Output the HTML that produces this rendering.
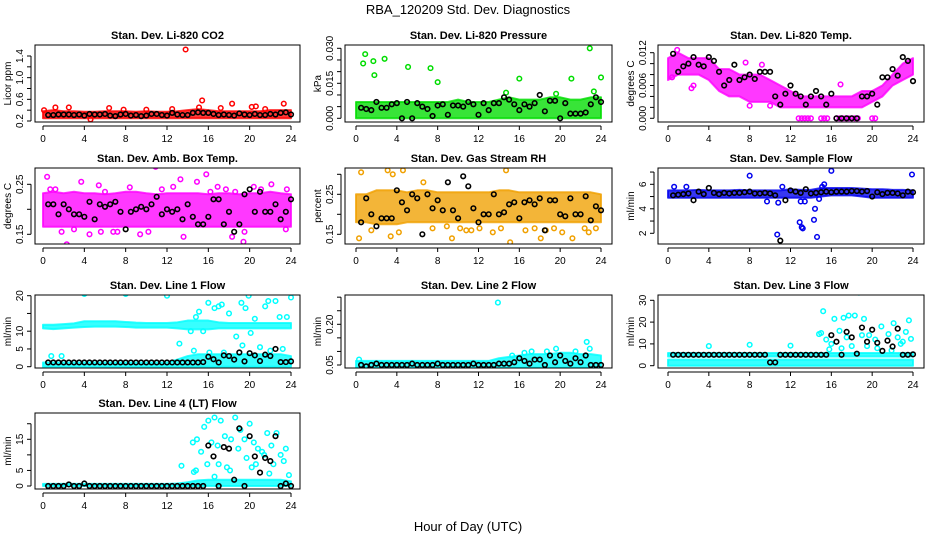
<!DOCTYPE html>
<html><head><meta charset="utf-8"><style>
body{margin:0;background:#fff;}
svg{display:block;font-family:"Liberation Sans",sans-serif;}
</style></head><body>
<svg id="chart" width="936" height="540" viewBox="0 0 936 540">
<text x="468" y="14" text-anchor="middle" font-size="13">RBA_120209  Std. Dev. Diagnostics</text>
<text x="468" y="531" text-anchor="middle" font-size="13">Hour of Day (UTC)</text>
</svg>
<script>
// ---- shared categories ----
const bandHours = [0,1,2,3,4,5,6,7,8,9,10,11,12,13,14,15,16,17,18,19,20,21,22,23,24];
const halfHours = [0.5,1,1.5,2,2.5,3,3.5,4,4.5,5,5.5,6,6.5,7,7.5,8,8.5,9,9.5,10,10.5,11,11.5,12,12.5,13,13.5,14,14.5,15,15.5,16,16.5,17,17.5,18,18.5,19,19.5,20,20.5,21,21.5,22,22.5,23,23.5,24];
const xTicks = [0,4,8,12,16,20,24];

// ---- CO2 ----
const co2Lo = [0.25,0.25,0.25,0.25,0.25,0.25,0.25,0.25,0.25,0.25,0.25,0.25,0.25,0.25,0.25,0.25,0.25,0.25,0.25,0.25,0.25,0.25,0.25,0.25,0.25];
const co2Hi = [0.38,0.4,0.38,0.38,0.37,0.37,0.38,0.38,0.38,0.37,0.38,0.37,0.37,0.38,0.4,0.42,0.4,0.38,0.38,0.38,0.38,0.38,0.4,0.4,0.4];
const co2OutH = [13.8,15.4,18.3,23.3,1.2,2.5,6.4,17.2,20.6,0.1,4.6,15.1,20.2,21.5,7.8,10,12.5];
const co2OutV = [1.52,0.58,0.52,0.52,0.45,0.45,0.44,0.44,0.47,0.4,0.23,0.45,0.46,0.42,0.41,0.41,0.42];
const co2Blk = [0.31,0.31,0.32,0.32,0.32,0.31,0.32,0.3,0.33,0.32,0.32,0.33,0.3,0.29,0.32,0.33,0.3,0.31,0.29,0.3,0.33,0.33,0.31,0.3,0.35,0.32,0.31,0.31,0.35,0.36,0.35,0.35,0.33,0.31,0.32,0.31,0.3,0.34,0.32,0.31,0.33,0.31,0.31,0.33,0.32,0.35,0.36,0.32];

// ---- Pressure ----
const prsLo = [0,0,0,0,0,0,0,0,0,0,0,0,0,0,0,0,0,0,0,0,0,0,0,0,0];
const prsHi = [0.007,0.007,0.007,0.007,0.007,0.007,0.007,0.007,0.007,0.007,0.008,0.007,0.007,0.007,0.008,0.009,0.008,0.008,0.008,0.009,0.009,0.008,0.008,0.009,0.009];
const prsOutH = [0.7,0.9,1.7,1.8,2.8,5.1,7.3,8,16,21.1,22.9,24,23.3,14.7,19.6];
const prsOutV = [0.0235,0.0275,0.0245,0.0185,0.0255,0.022,0.0215,0.0155,0.017,0.017,0.030,0.0175,0.0115,0.011,0.0105];
const prsBlk = [0.0045,0.004,0.0035,0.007,0.0045,0.0045,0.006,0.0065,0.0,0.007,0.0,0.0065,0.005,0.004,0.001,0.0055,0.006,0.0015,0.0055,0.0055,0.005,0.007,0.006,0.0015,0.0065,0.0035,0.0065,0.0065,0.009,0.008,0.006,0.0035,0.006,0.005,0.0065,0.01,0.003,0.0075,0.0075,0.0,0.0065,0.002,0.002,0.002,0.0025,0.006,0.009,0.007];

// ---- Li-820 Temp ----
const tmpLo = [0.007,0.008,0.008,0.008,0.007,0.005,0.004,0.004,0.003,0.003,0.003,0.002,0.002,0.002,0.002,0.002,0.002,0.002,0.002,0.002,0.003,0.004,0.006,0.007,0.008];
const tmpHi = [0.011,0.012,0.011,0.011,0.011,0.009,0.009,0.008,0.008,0.008,0.007,0.006,0.005,0.004,0.004,0.004,0.004,0.004,0.004,0.005,0.005,0.006,0.008,0.01,0.011];
const tmpOutH = [12.8,13.1,13.4,13.7,14.0,15.0,15.3,15.6,16.5,16.8,17.1,17.4,17.7,18.0,18.3,18.6,20.0,20.3,0.4,2.3,2.5,8,10,16.9,0.9,7.6,9.2];
const tmpOutV = [0,0,0,0,0,0,0,0,0,0,0,0,0,0,0,0,0,0,0.0075,0.0055,0.006,0.0023,0.0023,0.0062,0.0125,0.0102,0.0098];
const tmpBlk = [0.0118,0.0085,0.0095,0.010,0.0112,0.0098,0.0095,0.0112,0.0105,0.0085,0.006,0.007,0.0098,0.007,0.0075,0.008,0.0072,0.0085,0.0085,0.0085,0.004,0.0025,0.0045,0.006,0.0045,0.004,0.0025,0.004,0.005,0.004,0.0025,0.0045,0.0,0.0,0.0,0.0,0.0,0.004,0.004,0.0045,0.0025,0.0075,0.0075,0.009,0.0078,0.0112,0.0105,0.0068];

// ---- Amb Box Temp ----
const ambLo = [0.165,0.165,0.165,0.165,0.165,0.165,0.165,0.165,0.165,0.165,0.165,0.165,0.165,0.165,0.165,0.165,0.165,0.165,0.165,0.165,0.165,0.165,0.165,0.165,0.165];
const ambHi = [0.232,0.235,0.232,0.235,0.232,0.232,0.23,0.232,0.235,0.235,0.232,0.23,0.232,0.232,0.232,0.232,0.23,0.232,0.232,0.23,0.232,0.232,0.235,0.232,0.23];
const ambOutH = [0.4,0.7,1.2,2.3,3.7,5.4,6,7.2,8.4,10.9,11.5,12.6,13.3,14.9,15.8,16.9,17.7,18.6,19.4,20.4,21.1,22.1,23.5,1.8,3,5.6,6.8,9.4,13.6,16.2,18.3,19.5,23.6,4.5,10.2];
const ambOutV = [0.265,0.24,0.24,0.13,0.255,0.248,0.235,0.155,0.244,0.285,0.24,0.245,0.26,0.255,0.27,0.245,0.24,0.235,0.135,0.245,0.24,0.25,0.16,0.155,0.16,0.155,0.155,0.15,0.145,0.235,0.145,0.155,0.24,0.15,0.155];
const ambBlk = [0.21,0.21,0.19,0.21,0.20,0.19,0.19,0.185,0.215,0.18,0.21,0.205,0.21,0.215,0.195,0.16,0.195,0.2,0.205,0.2,0.21,0.225,0.19,0.2,0.195,0.2,0.18,0.21,0.185,0.17,0.17,0.185,0.22,0.22,0.17,0.195,0.155,0.17,0.23,0.24,0.195,0.235,0.195,0.195,0.21,0.18,0.195,0.22];

// ---- Gas Stream RH ----
const rhLo = [0.18,0.18,0.175,0.175,0.175,0.18,0.18,0.18,0.18,0.18,0.18,0.18,0.18,0.18,0.18,0.18,0.18,0.18,0.18,0.18,0.18,0.18,0.18,0.18,0.18];
const rhHi = [0.25,0.25,0.26,0.26,0.26,0.255,0.26,0.26,0.255,0.255,0.255,0.255,0.255,0.255,0.26,0.26,0.255,0.255,0.255,0.255,0.255,0.255,0.255,0.255,0.25];
const rhOutH = [0.3,0.5,3.1,3.4,3.6,4.2,4.6,6.6,8.9,9.4,10.2,10.8,11.3,13.4,14.7,15.1,18.1,18.6,20.2,21.2,22.4,22.8,23.5,1.5,7.5,12.1,16.6,17.5,19.4,14.2];
const rhOutV = [0.14,0.305,0.31,0.145,0.3,0.155,0.31,0.28,0.17,0.14,0.165,0.16,0.16,0.155,0.31,0.13,0.14,0.16,0.155,0.14,0.165,0.155,0.165,0.16,0.165,0.165,0.16,0.165,0.165,0.165];
const rhBlk = [0.18,0.24,0.2,0.17,0.19,0.19,0.19,0.26,0.23,0.21,0.25,0.24,0.15,0.25,0.215,0.235,0.21,0.28,0.21,0.19,0.295,0.27,0.215,0.18,0.2,0.2,0.25,0.2,0.205,0.225,0.23,0.19,0.23,0.235,0.225,0.24,0.16,0.235,0.235,0.2,0.195,0.24,0.2,0.2,0.245,0.185,0.22,0.21];

// ---- Sample Flow ----
const sfLo = [4.9,4.9,4.9,4.9,4.9,4.9,4.9,4.9,4.9,4.9,4.9,4.9,4.9,4.9,4.9,5.0,5.1,5.1,5.1,5.0,4.9,4.9,4.9,4.9,4.9];
const sfHi = [5.5,5.5,5.5,5.55,5.5,5.5,5.5,5.55,5.5,5.5,5.5,5.5,5.6,5.55,5.55,5.7,5.7,5.7,5.7,5.65,5.6,5.6,5.55,5.55,5.5];
const sfOutH = [8,16,23.9,10.7,12.9,13.1,13.2,14.3,14.4,14.6,10.8,9.7,13,13.4,15.3,1.8,0.6,11.2,14.8,15.1];
const sfOutV = [6.7,7.1,6.8,1.9,2.9,2.5,2.4,3.1,4.0,1.7,4.5,4.6,4.6,4.6,6.0,5.8,5.8,5.8,4.8,5.8];
const sfBlk = [5.1,5.15,5.2,5.25,4.7,5.4,5.2,5.7,5.3,5.2,5.3,5.25,5.3,5.3,5.35,5.4,5.25,5.25,5.3,5.25,5.1,1.4,4.7,5.5,5.4,5.3,5.6,5.25,5.3,5.35,5.4,5.35,5.4,5.4,5.4,5.45,5.45,5.4,5.45,5.0,5.35,5.2,5.3,5.3,5.25,5.1,5.4,5.35];

// ---- Line 1 Flow ----
const l1Lo = [10.8,10.6,10.8,11,11.2,11.3,11.3,11.3,11.2,11,11,11,11,10.8,10.5,10.5,10.5,10.8,10.8,10.8,10.8,10.8,10.8,10.8,10.8];
const l1Hi = [11.8,11.8,12,12.2,12.8,12.8,12.8,12.8,12.6,12.4,12.3,12.3,12.3,12.5,13,13,13,12.5,12.3,12.3,12.3,12.3,12.3,12.3,12.3];
const l1LowLo = [0,0,0,0,0,0,0,0,0,0,0,0,0,0,0,0,0,0,0,0,0,0,0,0,0];
const l1LowHi = [1.2,1.2,1.2,1.2,1.2,1.2,1.2,1.2,1.2,1.2,1.2,1.2,1.2,2,3,3.5,3.5,3.5,3.5,3.5,3.5,3.5,3.5,3.5,3];
const l1OutH = [4,8,12,19.9,24,16,17.3,19.2,21.8,22.5,13.2,0.8,1.8,16.6,17,14.8,15.1,18.7,19.6,20.1,21.5,22.9,23.6,14.3,15.5,18,20.5,14.6,16.1,19.3,21,23.2,17.5,22];
const l1OutV = [20.5,20.5,20,20,19.5,18,17.5,18,18.5,18.5,6.5,3,3,16.5,17,14,15.5,8.5,16.5,9.5,17,14,14,10,10,15,13.5,4.5,4,6,5.5,5,4,4.5];
const l1Blk = [1.2,1.2,1.2,1.2,1.2,1.2,1.2,1.2,1.2,1.2,1.2,1.2,1.2,1.2,1.2,1.2,1.2,1.2,1.2,1.2,1.2,1.2,1.2,1.2,1.2,1.2,1.2,1.2,1.2,1.2,1.3,2.8,2.1,1.2,3.2,3.0,2.0,4.0,1.5,3.8,3.2,1.6,3.4,3.0,5.0,1.3,1.3,1.5];

// ---- Line 2 Flow ----
const l2Lo = [0.04,0.04,0.04,0.04,0.04,0.04,0.04,0.04,0.04,0.04,0.04,0.04,0.04,0.04,0.04,0.04,0.04,0.04,0.04,0.04,0.04,0.04,0.04,0.04,0.04];
const l2Hi = [0.065,0.065,0.065,0.065,0.065,0.065,0.065,0.065,0.065,0.065,0.065,0.065,0.065,0.065,0.075,0.08,0.085,0.09,0.09,0.09,0.095,0.095,0.09,0.09,0.085];
const l2OutH = [13.9,22.6,22.9,19.6,16.5,17.2,18.7,21.5,15.3,0.3];
const l2OutV = [0.28,0.135,0.11,0.11,0.095,0.1,0.1,0.1,0.085,0.07];
const l2Blk = [0.05,0.045,0.05,0.055,0.05,0.05,0.05,0.05,0.05,0.05,0.055,0.05,0.05,0.05,0.05,0.055,0.05,0.05,0.05,0.05,0.05,0.05,0.055,0.05,0.05,0.05,0.05,0.055,0.055,0.055,0.06,0.075,0.065,0.055,0.07,0.07,0.05,0.085,0.06,0.085,0.065,0.055,0.075,0.06,0.085,0.05,0.05,0.05];

// ---- Line 3 Flow ----
const l3Lo = [0,0,0,0,0,0,0,0,0,0,0,0,0,0,0,0,0,0,0,0,0,0,0,0,0];
const l3Hi = [2.8,2.8,2.8,2.8,2.8,2.8,2.8,2.8,2.8,2.8,2.8,2.8,2.8,2.8,2.8,2.8,2.8,2.8,2.8,2.8,2.8,2.8,2.8,2.8,2.8];
const l3MidLo = [4.2,4.2,4.2,4.2,4.2,4.2,4.2,4.2,4.2,4.2,4.2,4.2,4.2,4.2,4.2,4.2,4.2,4.2,4.2,4.2,4.2,4.2,4.2,4.2,4.2];
const l3MidHi = [5.8,5.8,5.8,5.8,5.8,5.8,5.8,5.8,5.8,5.8,5.8,5.8,5.8,5.8,5.8,5.8,5.8,5.8,5.8,5.8,5.8,5.8,5.8,5.8,5.8];
const l3OutH = [4,8,12,15.2,18.7,16.3,17.7,18.3,19.2,22.1,23.6,20.9,17.2,15,15.5,16.8,17.5,19.7,20.3,21.6,22.5,23.3,23.8,14.8,16,18,19,20.5,21.9,23,15.8,17,19.5,22.8];
const l3OutV = [9,9.6,9.2,25,33.5,21.5,23,23,21.5,19.5,20.8,18,22,15,12,16,13,14,12,14.5,13,15.5,12.3,14.5,10,9,14,8,7,11,7.5,8,9,10];
const l3Blk = [5,5,5,5,5,5,5,5,5,5,5,5,5,5,5,5,5,5,5,1.5,1.5,5,5,5,5,5,5,5,5,5,5,14,11,5,15.5,13,5.5,17.5,11,16.5,10.5,6.8,11.5,8.8,17,5,5,5.2];

// ---- Line 4 Flow ----
const l4Lo = [0,0,0,0,0,0,0,0,0,0,0,0,0,0,0,0,0,0,0,0,0,0,0,0,0];
const l4Hi = [0.7,0.7,0.7,0.7,0.7,0.7,0.7,0.7,0.7,0.7,0.7,0.7,0.7,0.8,1.2,1.8,2,2,2,2,2,2,2,2,1.5];
const l4OutH = [13.4,14.5,14.9,15.3,15.6,16,16.3,16.6,16.9,17.2,17.6,18.2,18.6,19.1,19.5,20,20.4,20.8,21.2,21.7,22.1,22.6,23,23.5,23.8,14.8,15.9,17,17.8,18.9,19.7,20.6,21.4,22.3,23.3,16.6,18.1,20.2,21.9,14.6];
const l4OutV = [6.5,14,15,11,19,21,14,22,13,21,16,15,22,18,15,20,14,12,11,17,13,17,10,12,3.5,5,7,7,6,12,9,7,10,7,8,3,5,6,4,4.5];
const l4Blk = [0,0,0,0,0.5,0,0,0.8,0,0,0,0,0,0,0,0,0,0,0,0,0,0,0,0,0,0,0,0,0,0,0,13,9.5,0,12.5,12,2,18.5,0,16,9.5,4.3,9,8,16,0,0.8,0];

// ---- layout (positions, not data) ----
const cols = [{l:35,r:300,x0:43,x24:291},{l:345,r:612,x0:356,x24:601},{l:658,r:924,x0:668,x24:913}];
const rows = [{t:45,b:122},{t:168,b:244},{t:295,b:368},{t:413,b:489}];

const panels = [
 {name:'co2',title:'Stan. Dev. Li-820 CO2',ylab:'Licor ppm',c:0,r:0,ya:0.2,yb:1.4,ticks:[0.2,0.4,0.6,0.8,1.0,1.2,1.4],labels:['0.2','0.6','1.0','1.4'],color:'#ff0000',bands:[[co2Lo,co2Hi]],oh:co2OutH,ov:co2OutV,blk:co2Blk},
 {name:'pressure',title:'Stan. Dev. Li-820 Pressure',ylab:'kPa',c:1,r:0,ya:0,yb:0.03,ticks:[0,0.005,0.01,0.015,0.02,0.025,0.03],labels:['0.000','0.015','0.030'],color:'#00dd00',bands:[[prsLo,prsHi]],oh:prsOutH,ov:prsOutV,blk:prsBlk},
 {name:'licor-temp',title:'Stan. Dev. Li-820 Temp.',ylab:'degrees C',c:2,r:0,ya:0,yb:0.012,ticks:[0,0.002,0.004,0.006,0.008,0.01,0.012],labels:['0.000','0.006','0.012'],color:'#ff00ff',bands:[[tmpLo,tmpHi]],oh:tmpOutH,ov:tmpOutV,blk:tmpBlk},
 {name:'amb-box-temp',title:'Stan. Dev. Amb. Box Temp.',ylab:'degrees C',c:0,r:1,ya:0.15,yb:0.25,ticks:[0.15,0.2,0.25],labels:['0.15','0.25'],color:'#ff00ff',bands:[[ambLo,ambHi]],oh:ambOutH,ov:ambOutV,blk:ambBlk},
 {name:'gas-rh',title:'Stan. Dev. Gas Stream RH',ylab:'percent',c:1,r:1,ya:0.15,yb:0.25,ticks:[0.15,0.2,0.25,0.3],labels:['0.15','0.25'],color:'#f0a000',bands:[[rhLo,rhHi]],oh:rhOutH,ov:rhOutV,blk:rhBlk},
 {name:'sample-flow',title:'Stan. Dev. Sample Flow',ylab:'ml/min',c:2,r:1,ya:2,yb:6,ticks:[2,3,4,5,6,7],labels:['2','4','6'],color:'#0000ee',bands:[[sfLo,sfHi]],oh:sfOutH,ov:sfOutV,blk:sfBlk},
 {name:'line1-flow',title:'Stan. Dev. Line 1 Flow',ylab:'ml/min',c:0,r:2,ya:0,yb:20,ticks:[0,5,10,15,20],labels:['0','5','10','20'],color:'#00ffff',bands:[[l1Lo,l1Hi],[l1LowLo,l1LowHi]],oh:l1OutH,ov:l1OutV,blk:l1Blk},
 {name:'line2-flow',title:'Stan. Dev. Line 2 Flow',ylab:'ml/min',c:1,r:2,ya:0.05,yb:0.2,ticks:[0.05,0.1,0.15,0.2,0.25,0.3],labels:['0.05','0.20'],color:'#00ffff',bands:[[l2Lo,l2Hi]],oh:l2OutH,ov:l2OutV,blk:l2Blk},
 {name:'line3-flow',title:'Stan. Dev. Line 3 Flow',ylab:'ml/min',c:2,r:2,ya:0,yb:30,ticks:[0,10,20,30],labels:['0','10','20','30'],color:'#00ffff',bands:[[l3Lo,l3Hi],[l3MidLo,l3MidHi]],oh:l3OutH,ov:l3OutV,blk:l3Blk},
 {name:'line4-flow',title:'Stan. Dev. Line 4 (LT) Flow',ylab:'ml/min',c:0,r:3,ya:0,yb:15,ticks:[0,5,10,15,20],labels:['0','5','15'],color:'#00ffff',bands:[[l4Lo,l4Hi]],oh:l4OutH,ov:l4OutV,blk:l4Blk}
];
const yPix = {co2:[121,56],pressure:[118.3,48.3],'licor-temp':[118.3,52.7],'amb-box-temp':[234.3,184.3],'gas-rh':[234.3,194.3],'sample-flow':[233.3,184.3],'line1-flow':[366.7,295.7],'line2-flow':[365,324.3],'line3-flow':[365.7,300.3],'line4-flow':[486,439.3]};

const svg = document.getElementById('chart');
const NS = 'http://www.w3.org/2000/svg';
function mk(tag, attrs, parent){const e=document.createElementNS(NS,tag);for(const k in attrs)e.setAttribute(k,attrs[k]);(parent||svg).appendChild(e);return e;}

panels.forEach(p=>{
  const col=cols[p.c], row=rows[p.r], yp=yPix[p.name];
  const xs=h=>col.x0+(h/24)*(col.x24-col.x0);
  const ys=v=>yp[0]+(v-p.ya)/(p.yb-p.ya)*(yp[1]-yp[0]);
  const g=mk('g',{});
  
  
  const clip='clip-'+p.name;
  const cp=mk('clipPath',{id:clip},g);
  mk('rect',{x:col.l,y:row.t,width:col.r-col.l,height:row.b-row.t},cp);
  const data=mk('g',{'clip-path':'url(#'+clip+')'},g);
  p.bands.forEach(b=>{
    let pts=bandHours.map((h,i)=>xs(h)+','+ys(b[1][i]));
    pts=pts.concat(bandHours.slice().reverse().map((h,k)=>{const i=bandHours.length-1-k;return xs(h)+','+ys(b[0][i]);}));
    const poly=mk('polygon',{points:pts.join(' '),fill:p.color,stroke:p.color,'stroke-width':2,'stroke-linejoin':'round','fill-opacity':0.78,'stroke-opacity':0.8},data);
    
    
  });
  p.oh.forEach((h,i)=>{
    const c=mk('circle',{cx:xs(h),cy:ys(p.ov[i]),r:2.3,fill:'none',stroke:p.color,'stroke-width':1.5},data);
    
    
  });
  halfHours.forEach((h,i)=>{
    const c=mk('circle',{cx:xs(h),cy:ys(p.blk[i]),r:2.3,fill:'none',stroke:'#000','stroke-width':1.6},data);
    
    
  });
  const box=mk('rect',{x:col.l,y:row.t,width:col.r-col.l,height:row.b-row.t,fill:'none',stroke:'#000','stroke-width':1},g);
  
  
  const t=mk('text',{x:(col.l+col.r)/2,y:row.t-6,'text-anchor':'middle','font-size':11,'font-weight':'bold'},g);
  t.textContent=p.title;
  
  
  const xa=mk('g',{},g);
  
  
  mk('line',{x1:xs(0),x2:xs(24),y1:row.b+4,y2:row.b+4,stroke:'#000'},xa);
  xTicks.forEach(v=>{
    mk('line',{x1:xs(v),x2:xs(v),y1:row.b+4,y2:row.b+8,stroke:'#000'},xa);
    const tl=mk('text',{x:xs(v),y:row.b+20,'text-anchor':'middle','font-size':10},xa);
    tl.textContent=v;
  });
  const ya=mk('g',{},g);
  
  
  const ax=col.l-4;
  mk('line',{x1:ax,x2:ax,y1:ys(p.ticks[0]),y2:ys(p.ticks[p.ticks.length-1]),stroke:'#000'},ya);
  p.ticks.forEach(v=>{mk('line',{x1:ax-4,x2:ax,y1:ys(v),y2:ys(v),stroke:'#000'},ya);});
  p.labels.forEach(s=>{
    const v=parseFloat(s), y=ys(v), x=ax-8;
    const tl=mk('text',{x:x,y:y,'text-anchor':'middle','font-size':10,transform:'rotate(-90 '+x+' '+y+')'},ya);
    tl.textContent=s;
  });
  const yl=col.l-24, ym=(row.t+row.b)/2;
  const lab=mk('text',{x:yl,y:ym,'text-anchor':'middle','font-size':10,transform:'rotate(-90 '+yl+' '+ym+')'},g);
  lab.textContent=p.ylab;
  
  
});
</script>
</body></html>
